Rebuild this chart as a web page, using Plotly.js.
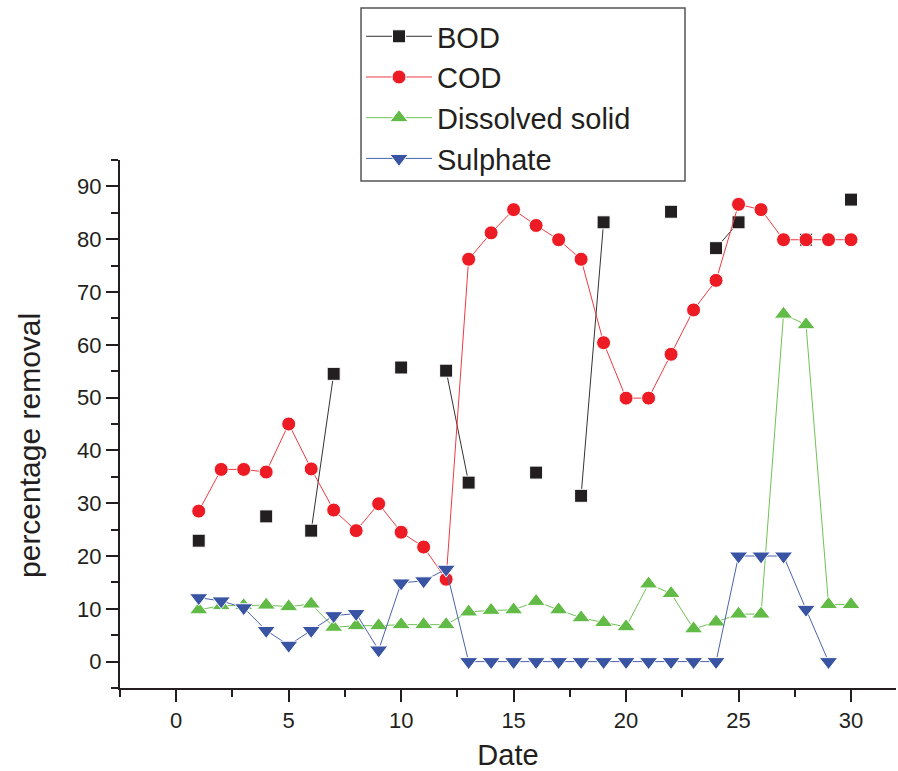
<!DOCTYPE html>
<html>
<head>
<meta charset="utf-8">
<script src="https://cdn.plot.ly/plotly-3.0.1.min.js"></script>
<style>html,body{margin:0;padding:0;background:#fff;}#chart{width:898px;height:771px;}</style>
</head>
<body>
<div id="chart"></div>
<script>
const dates = [1,2,3,4,5,6,7,8,9,10,11,12,13,14,15,16,17,18,19,20,21,22,23,24,25,26,27,28,29,30];
const bod = [22.9,null,null,27.5,null,24.8,54.5,null,null,55.7,null,55.1,33.9,null,null,35.8,null,31.4,83.2,null,null,85.2,null,78.3,83.2,null,null,79.9,null,87.5];
const cod = [28.5,36.4,36.4,35.9,45.0,36.5,28.7,24.8,29.9,24.5,21.7,15.6,76.2,81.2,85.6,82.6,79.9,76.2,60.4,49.9,49.9,58.2,66.6,72.2,86.6,85.6,79.9,79.9,79.9,79.9];
const dissolved = [9.8,10.6,10.6,10.7,10.4,10.9,6.5,6.8,6.8,7.0,7.0,7.0,9.4,9.7,9.8,11.4,9.8,8.3,7.4,6.6,14.7,12.9,6.2,7.5,9.0,9.0,65.8,63.8,10.8,10.8];
const sulphate = [12.1,11.5,10.2,5.9,3.1,5.9,8.7,9.1,2.2,14.9,15.3,17.5,0,0,0,0,0,0,0,0,0,0,0,0,20.0,20.0,20.0,9.9,0,null];
const seriesNames = ['BOD','COD','Dissolved solid','Sulphate'];
const xTicks = [0,5,10,15,20,25,30];
const yTicks = [0,10,20,30,40,50,60,70,80,90];

const font = 'Liberation Sans, Arial, sans-serif';
function tr(y, name, color, lineColor, symbol, size, group) {
  return {
    x: dates, y: y, name: name, type: 'scatter', mode: 'lines+markers',
    connectgaps: false, legendgroup: group,
    line: {color: lineColor, width: 1},
    marker: {color: color, symbol: symbol, size: size, line: {color: '#ffffff', width: 1}}
  };
}
const data = [
  tr(bod, seriesNames[0], '#231f20', '#333333', 'square', 13, 'a'),
  tr(cod, seriesNames[1], '#ed1c24', '#ee3a42', 'circle', 14, 'b'),
  tr(dissolved, seriesNames[2], '#62bb46', '#6fc255', 'triangle-up', 16, 'c'),
  tr(sulphate, seriesNames[3], '#3a54a4', '#4b63ad', 'triangle-down', 16, 'd')
];
const layout = {
  width: 898, height: 771,
  margin: {l: 120, r: 2, t: 160, b: 83},
  paper_bgcolor: '#fff', plot_bgcolor: '#fff',
  font: {family: font, color: '#231f20'},
  showlegend: true,
  legend: {
    x: 0.3106, y: 1.2823, xanchor: 'left', yanchor: 'top',
    bgcolor: 'rgba(0,0,0,0)', borderwidth: 0,
    font: {family: font, size: 29, color: '#231f20'},
    itemwidth: 66, tracegroupgap: 2, traceorder: 'normal'
  },
  shapes: [{
    type: 'rect', xref: 'paper', yref: 'paper',
    x0: 0.3106, x1: 0.7281, y0: 0.9602, y1: 1.2879,
    line: {color: '#555', width: 1.5}, fillcolor: '#fff', layer: 'below'
  }],
  xaxis: {
    range: [-2.5, 32], tickvals: xTicks, ticktext: xTicks.map(String),
    showgrid: false, zeroline: false, showline: true, linecolor: '#231f20', linewidth: 2,
    ticks: 'outside', ticklen: 12, tickwidth: 2, tickcolor: '#231f20',
    tickfont: {family: font, size: 22, color: '#231f20'},
    minor: {tickvals: [-2.5,2.5,7.5,12.5,17.5,22.5,27.5], ticks: 'outside', ticklen: 7, tickwidth: 2, tickcolor: '#231f20'},
    title: {text: 'Date', font: {family: font, size: 29, color: '#231f20'}, standoff: 21}
  },
  yaxis: {
    range: [-5, 95], tickvals: yTicks, ticktext: yTicks.map(String),
    showgrid: false, zeroline: false, showline: true, linecolor: '#231f20', linewidth: 2,
    ticks: 'outside', ticklen: 12, tickwidth: 2, tickcolor: '#231f20',
    tickfont: {family: font, size: 22, color: '#231f20'},
    minor: {tickvals: [-5,5,15,25,35,45,55,65,75,85,95], ticks: 'outside', ticklen: 7, tickwidth: 2, tickcolor: '#231f20'}
  },
  annotations: [{
    text: 'percentage removal', xref: 'paper', yref: 'paper',
    x: -0.1173, y: 0.4602, xanchor: 'center', yanchor: 'middle',
    textangle: -90, showarrow: false,
    font: {family: font, size: 30, color: '#231f20'}
  }]
};
Plotly.newPlot('chart', data, layout, {displayModeBar: false, staticPlot: true});
</script>
</body>
</html>
